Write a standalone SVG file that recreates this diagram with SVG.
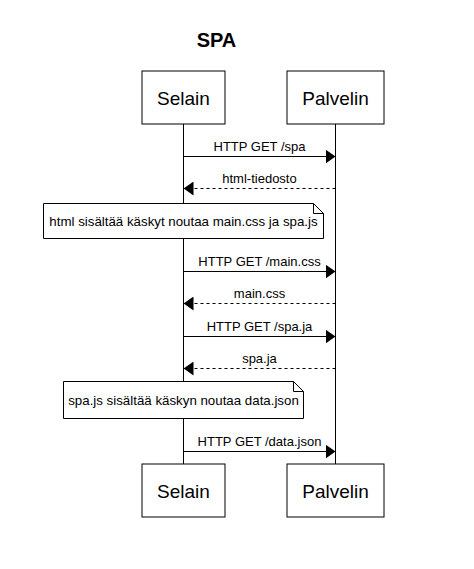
<svg xmlns="http://www.w3.org/2000/svg" width="474" height="569" viewBox="0 0 474 569">
  <defs>
    <marker id="arrow" viewBox="0 0 10 14" refX="10" refY="7" markerWidth="10" markerHeight="14" markerUnits="userSpaceOnUse" orient="auto">
      <path d="M0,0 L10,7 L0,14 Z" fill="#000"/>
    </marker>
    <style>
      text { font-family: "Liberation Sans", Arial, Helvetica, sans-serif; fill: #000; }
      .title { font-size: 20px; font-weight: bold; text-anchor: middle; }
      .actor rect { fill: #fff; stroke: #000; stroke-width: 1; }
      .actor text { font-size: 19px; text-anchor: middle; }
      .life { stroke: #000; stroke-width: 1; fill: none; }
      .msg { stroke: #000; stroke-width: 1; fill: none; marker-end: url(#arrow); }
      .ret { stroke-dasharray: 3 3; }
      .lbl { font-size: 13px; text-anchor: middle; }
      .note path { fill: #fff; stroke: #000; stroke-width: 1; }
      .note text { font-size: 13.3px; text-anchor: middle; }
    </style>
  </defs>

  <rect width="474" height="569" fill="#fff"/>

  <text class="title" x="216.5" y="47">SPA</text>

  <!-- lifelines -->
  <g id="lifelines">
    <line class="life" x1="183.5" y1="124" x2="183.5" y2="464"/>
    <line class="life" x1="335.5" y1="124" x2="335.5" y2="464"/>
  </g>

  <!-- participants (top and bottom) -->
  <g id="selain-top" class="actor">
    <rect x="142" y="71" width="83" height="53"/>
    <text x="183.5" y="104.5">Selain</text>
  </g>
  <g id="palvelin-top" class="actor">
    <rect x="287" y="71" width="97" height="53"/>
    <text x="335.5" y="104.5">Palvelin</text>
  </g>
  <g id="selain-bottom" class="actor">
    <rect x="142" y="464" width="83" height="53"/>
    <text x="183.5" y="497.5">Selain</text>
  </g>
  <g id="palvelin-bottom" class="actor">
    <rect x="287" y="464" width="97" height="53"/>
    <text x="335.5" y="497.5">Palvelin</text>
  </g>

  <!-- messages -->
  <g id="connectors">
    <line class="msg" x1="183.5" y1="156.5" x2="335.5" y2="156.5"/>
    <line class="msg ret" x1="335.5" y1="188.5" x2="183.5" y2="188.5"/>
    <line class="msg" x1="183.5" y1="271.5" x2="335.5" y2="271.5"/>
    <line class="msg ret" x1="335.5" y1="303.5" x2="183.5" y2="303.5"/>
    <line class="msg" x1="183.5" y1="336.5" x2="335.5" y2="336.5"/>
    <line class="msg ret" x1="335.5" y1="368.5" x2="183.5" y2="368.5"/>
    <line class="msg" x1="183.5" y1="451.5" x2="335.5" y2="451.5"/>
  </g>

  <g id="labels">
    <text class="lbl" x="259.5" y="151">HTTP GET /spa</text>
    <text class="lbl" x="259.5" y="183">html-tiedosto</text>
    <text class="lbl" x="259.5" y="266">HTTP GET /main.css</text>
    <text class="lbl" x="259.5" y="298">main.css</text>
    <text class="lbl" x="259.5" y="331">HTTP GET /spa.ja</text>
    <text class="lbl" x="259.5" y="363">spa.ja</text>
    <text class="lbl" x="259.5" y="446">HTTP GET /data.json</text>
  </g>

  <!-- notes -->
  <g id="note-html" class="note">
    <path d="M43.5,203.5 H313.5 L323.5,213.5 V238.5 H43.5 Z M313.5,203.5 V213.5 H323.5"/>
    <text x="183.5" y="226">html sisältää käskyt noutaa main.css ja spa.js</text>
  </g>
  <g id="note-spajs" class="note">
    <path d="M63.5,381.5 H293.5 L303.5,391.5 V418.5 H63.5 Z M293.5,381.5 V391.5 H303.5"/>
    <text x="183.5" y="405">spa.js sisältää käskyn noutaa data.json</text>
  </g>
</svg>
